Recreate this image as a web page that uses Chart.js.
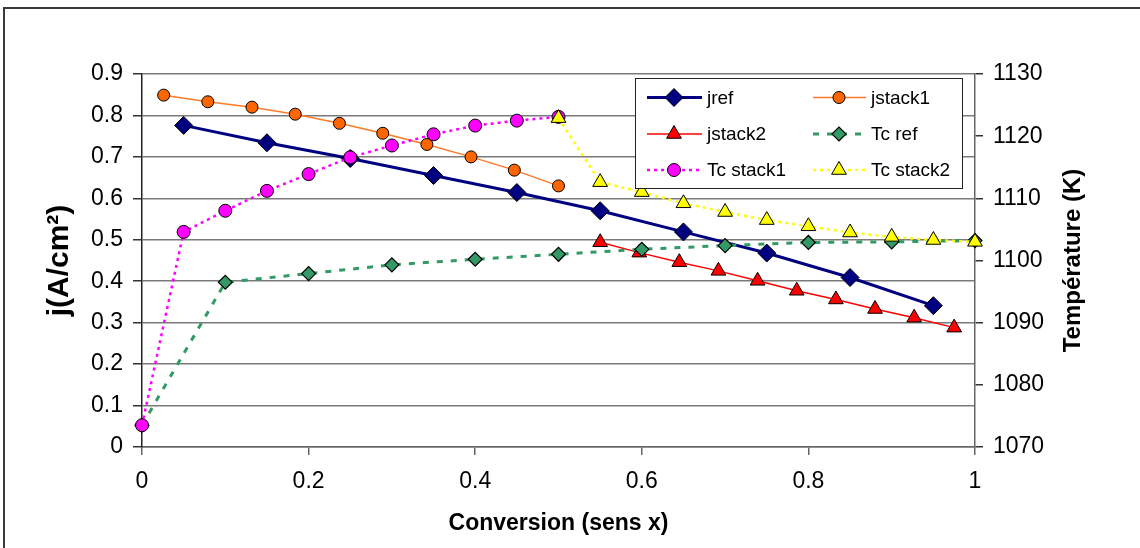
<!DOCTYPE html>
<html lang="fr">
<head>
<meta charset="UTF-8">
<title>Conversion - densité de courant et température</title>
<script src="https://cdn.jsdelivr.net/npm/chart.js"></script>
<style>
  html, body { margin: 0; padding: 0; background: #fff; overflow: hidden; }
  .wrap { position: relative; width: 1140px; height: 548px; }
  .frame { position: absolute; left: 3px; top: 7px; width: 1160px; height: 570px;
           border-left: 2px solid #3a3a3a; border-top: 2px solid #3a3a3a; }
</style>
</head>
<body>
<div class="wrap">
  <div class="frame"></div>
  <canvas id="chart"></canvas>
</div>

<script>
// values
const jrefX = [0.05, 0.15, 0.25, 0.35, 0.45, 0.55, 0.65, 0.75, 0.85, 0.95];
const jrefY = [0.776, 0.734, 0.696, 0.655, 0.614, 0.570, 0.519, 0.468, 0.409, 0.341];

const jstack1X = [0.026, 0.079, 0.132, 0.184, 0.237, 0.289, 0.342, 0.395, 0.447, 0.5];
const jstack1Y = [0.849, 0.833, 0.820, 0.803, 0.781, 0.757, 0.730, 0.700, 0.668, 0.630];

const jstack2X = [0.55, 0.597, 0.645, 0.692, 0.739, 0.786, 0.833, 0.88, 0.927, 0.975];
const jstack2Y = [0.494, 0.469, 0.446, 0.425, 0.401, 0.377, 0.356, 0.333, 0.312, 0.288];

const tcRefX = [0, 0.1, 0.2, 0.3, 0.4, 0.5, 0.6, 0.7, 0.8, 0.9, 1.0];
const tcRefY = [1073.5, 1096.5, 1097.9, 1099.3, 1100.2, 1101.0, 1101.8, 1102.4, 1102.9, 1103.0, 1103.2];

const tcStack1X = [0, 0.05, 0.1, 0.15, 0.2, 0.25, 0.3, 0.35, 0.4, 0.45, 0.5];
const tcStack1Y = [1073.5, 1104.6, 1108.0, 1111.2, 1113.9, 1116.6, 1118.5, 1120.3, 1121.7, 1122.5, 1123.1];

const tcStack2X = [0.5, 0.55, 0.6, 0.65, 0.7, 0.75, 0.8, 0.85, 0.9, 0.95, 1.0];
const tcStack2Y = [1122.9, 1112.6, 1111.0, 1109.2, 1107.8, 1106.5, 1105.5, 1104.5, 1103.8, 1103.3, 1103.0];

const pts = (xs, ys) => xs.map((x, i) => ({ x: x, y: ys[i] }));
const fmt = v => String(Math.round(v * 10) / 10);

Chart.defaults.font.family = '"Liberation Sans", Arial, sans-serif';
Chart.defaults.color = '#000';

// legend in two columns inside the plot, like the original
const boxLegend = {
  id: 'boxLegend',
  afterDatasetsDraw(chart) {
    const ctx = chart.ctx;
    const bx = 635, by = 78, bw = 327, bh = 110;
    const rows = [97.5, 134, 170];
    const cols = [{ l0: 647, l1: 702, m: 674, t: 707 }, { l0: 813, l1: 866, m: 839, t: 871 }];
    ctx.save();
    ctx.fillStyle = '#fff';
    ctx.fillRect(bx, by, bw, bh);
    ctx.strokeStyle = '#222';
    ctx.lineWidth = 1;
    ctx.strokeRect(bx + 0.5, by + 0.5, bw, bh);
    chart.data.datasets.forEach((ds, i) => {
      const c = cols[i % 2];
      const y = rows[Math.floor(i / 2)];
      ctx.strokeStyle = ds.borderColor;
      ctx.lineWidth = ds.borderWidth;
      ctx.setLineDash(ds.borderDash || []);
      ctx.beginPath();
      ctx.moveTo(c.l0, y);
      ctx.lineTo(c.l1, y);
      ctx.stroke();
      ctx.setLineDash([]);
      ctx.fillStyle = ds.pointBackgroundColor;
      ctx.strokeStyle = ds.pointBorderColor;
      ctx.lineWidth = ds.pointBorderWidth;
      Chart.helpers.drawPoint(ctx, {
        pointStyle: ds.pointStyle, radius: ds.pointRadius, rotation: 0, borderWidth: ds.pointBorderWidth
      }, c.m, y);
      ctx.fillStyle = '#000';
      ctx.font = '19px "Liberation Sans", Arial, sans-serif';
      ctx.textBaseline = 'middle';
      ctx.textAlign = 'left';
      ctx.fillText(ds.label, c.t, y + 1);
    });
    ctx.restore();
  },
  afterDraw(chart) {
    // right axis title reads bottom to top
    const ctx = chart.ctx;
    const a = chart.chartArea;
    ctx.save();
    ctx.translate(1073, (a.top + a.bottom) / 2);
    ctx.rotate(-Math.PI / 2);
    ctx.fillStyle = '#000';
    ctx.font = 'bold 24px "Liberation Sans", Arial, sans-serif';
    ctx.textAlign = 'center';
    ctx.textBaseline = 'middle';
    ctx.fillText('Température (K)', 0, 0);
    ctx.restore();
  }
};

new Chart(document.getElementById('chart'), {
  type: 'line',
  data: {
    datasets: [
      {
        label: 'jref', data: pts(jrefX, jrefY), yAxisID: 'y', order: 6,
        borderColor: '#000080', borderWidth: 3,
        pointStyle: 'rectRot', pointRadius: 9, pointBackgroundColor: '#000080',
        pointBorderColor: '#000', pointBorderWidth: 1
      },
      {
        label: 'jstack1', data: pts(jstack1X, jstack1Y), yAxisID: 'y', order: 5,
        borderColor: '#ff7a26', borderWidth: 1.5,
        pointStyle: 'circle', pointRadius: 6, pointBackgroundColor: '#ff6600',
        pointBorderColor: '#000', pointBorderWidth: 1
      },
      {
        label: 'jstack2', data: pts(jstack2X, jstack2Y), yAxisID: 'y', order: 4,
        borderColor: '#ff0000', borderWidth: 1.5,
        pointStyle: 'triangle', pointRadius: 8.5, pointBackgroundColor: '#ff0000',
        pointBorderColor: '#000', pointBorderWidth: 1
      },
      {
        label: 'Tc ref', data: pts(tcRefX, tcRefY), yAxisID: 'y2', order: 3,
        borderColor: '#339966', borderWidth: 3, borderDash: [6, 8],
        pointStyle: 'rectRot', pointRadius: 7, pointBackgroundColor: '#339966',
        pointBorderColor: '#000', pointBorderWidth: 1.2
      },
      {
        label: 'Tc stack1', data: pts(tcStack1X, tcStack1Y), yAxisID: 'y2', order: 2,
        borderColor: '#ff00ff', borderWidth: 2.5, borderDash: [3, 4],
        pointStyle: 'circle', pointRadius: 6.5, pointBackgroundColor: '#ff00ff',
        pointBorderColor: '#000', pointBorderWidth: 1
      },
      {
        label: 'Tc stack2', data: pts(tcStack2X, tcStack2Y), yAxisID: 'y2', order: 1,
        borderColor: '#ffff00', borderWidth: 2.5, borderDash: [3, 4],
        pointStyle: 'triangle', pointRadius: 8.5, pointBackgroundColor: '#ffff00',
        pointBorderColor: '#000', pointBorderWidth: 1
      }
    ]
  },
  options: {
    responsive: true,
    maintainAspectRatio: false,
    animation: false,
    events: [],
    clip: false,
    tension: 0,
    layout: { padding: { top: 74, left: 0, right: 0, bottom: 0 } },
    plugins: { legend: { display: false }, tooltip: { enabled: false } },
    scales: {
      x: {
        type: 'linear', position: 'bottom', min: 0, max: 1,
        ticks: { stepSize: 0.2, padding: 13, maxRotation: 0, font: { size: 23 }, callback: fmt },
        grid: { drawOnChartArea: false, tickLength: 8, tickColor: '#666', lineWidth: 1.5 },
        border: { color: '#666', width: 1.5 },
        title: { display: true, text: 'Conversion (sens x)', font: { size: 23, weight: 'bold' },
                 padding: { top: 0, bottom: 11 } },
        afterFit: s => { s.height = 101; }
      },
      y: {
        position: 'left', min: 0, max: 0.9,
        ticks: { stepSize: 0.1, padding: 10, font: { size: 23 }, callback: fmt },
        grid: { color: '#7a7a7a', lineWidth: 1.5, tickLength: 9, tickColor: '#333' },
        border: { color: '#222', width: 1.5 },
        title: { display: true, text: 'j(A/cm²)', font: { size: 30, weight: 'bold' },
                 padding: { top: 42, bottom: 0 } },
        afterFit: s => { s.width = 142; }
      },
      y2: {
        position: 'right', min: 1070, max: 1130,
        ticks: { stepSize: 10, padding: 10, font: { size: 23 }, callback: v => String(v) },
        grid: { drawOnChartArea: false, tickLength: 8, tickColor: '#333', lineWidth: 1.5 },
        border: { color: '#666', width: 1.5 },
        afterFit: s => { s.width = 165; }
      }
    }
  },
  plugins: [boxLegend]
});
</script>
</body>
</html>
